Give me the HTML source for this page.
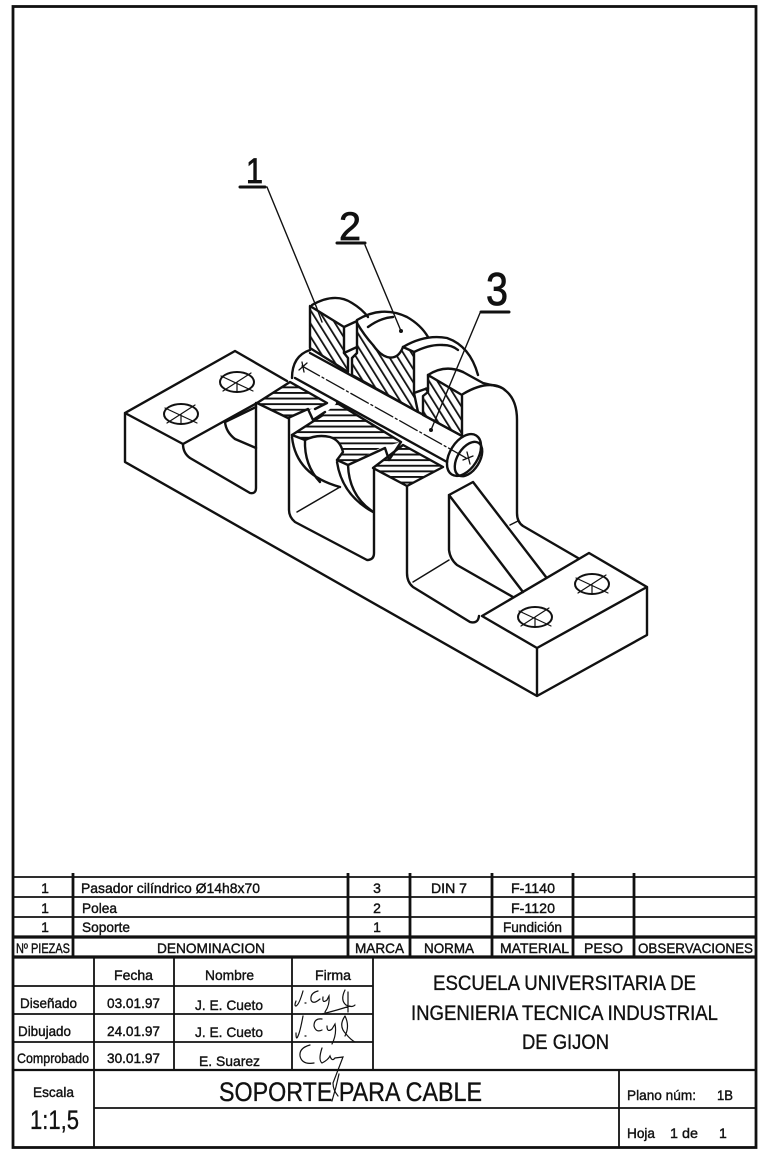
<!DOCTYPE html>
<html><head><meta charset="utf-8"><style>
html,body{margin:0;padding:0;background:#fff}
svg{display:block}
text{font-family:"Liberation Sans",sans-serif;fill:#111}
.t{font-size:14px;stroke:#111;stroke-width:.4}
.b{stroke:#111;stroke-width:.35}
.c{text-anchor:middle}
</style></head><body>
<svg width="774" height="1159" viewBox="0 0 774 1159" xmlns="http://www.w3.org/2000/svg">
<defs>
<pattern id="hh" width="10" height="5.6" patternUnits="userSpaceOnUse"><rect width="10" height="1.900" fill="#111"/></pattern>
<pattern id="dh" width="7" height="10" patternUnits="userSpaceOnUse" patternTransform="rotate(-32)"><rect width="1.800" height="10" fill="#111"/></pattern>
</defs>
<rect width="774" height="1159" fill="#fff"/>

<!-- sheet frame -->
<rect x="13" y="6.500" width="743" height="1141" fill="none" stroke="#111" stroke-width="2.800"/>

<!-- hatched sections -->
<g stroke="none">
<path fill="url(#hh)" d="M257 403L290 382L327 403L288 418Z"/>
<path fill="url(#hh)" d="M292 435L323 415L337 403L401 442L380 448L348 465L337 460L343 452Q340 440 330 437Q317 434 305 440Z"/>
<path fill="url(#hh)" d="M373 468L403 445L443 467L407 486Z"/>
<path fill="url(#dh)" d="M310 306L343 327V353L348 358V372L310 348Z"/>
<path fill="url(#dh)" d="M357 323Q364 335 373 345Q380 355 387 357Q398 360 403 347L414 352V393L418 412L352 375V358L357 353Z"/>
<path fill="url(#dh)" d="M428 375L462 395V436L423 415L425 390Z"/>
</g>

<g fill="none" stroke="#111" stroke-width="2.400" stroke-linejoin="round" stroke-linecap="round">
<!-- base outline -->
<path d="M125 413L235 351L287 381M125 413L183 444L257 403M125 413V462L537 696L647 635V587L589 553L482 616L537 648V696M537 648L647 587"/>
<!-- left recess -->
<path d="M183 444Q183 453 190 458L250 493Q256 494 256 488V403"/>
<path d="M225 422Q226 432 235 439L256 448M225 422L256 407"/>
<!-- section outlines -->
<path d="M257 403L290 382L327 403L315 409M257 403L288 418L308 409L313 420L325 412"/>
<path d="M289 418V510Q289 517 295 522L367 560Q374 560 374 553V468"/>
<path d="M292 435L323 415"/>
<path d="M337 403L401 442L389 460L385 448L348 465L337 460"/>
<path d="M373 468L403 445L443 467L407 486Z"/>
<path d="M407 486V573Q407 582 413 587L470 622Q478 624 479 616"/>
<!-- pulley below -->
<path d="M292 437Q296 475 340 487"/>
<path d="M305 440Q304 465 320 482"/>
<path d="M292 435L305 440Q317 434 330 437Q340 440 343 452L337 460"/>
<path d="M337 462Q342 495 373 512"/>
<path d="M348 465Q349 495 372 511"/>
<path stroke-width="1.500" d="M297 512L340 487"/>
<!-- right standing part -->
<path d="M463 394Q478 385 490 385Q500 385 506 391Q517 400 517 420V513Q517 522 523 526L578 558"/>
<path d="M463 372L483 383L500 387"/>
<path stroke-width="1.500" d="M510 525L518 521"/>
<!-- rib -->
<path d="M449 495L473 482L546 577M449 495V550Q450 559 457 565L513 597M449 495L523 592"/>
<path stroke-width="1.500" d="M413 582L449 560"/>
<!-- upper pulley -->
<path d="M310 306V348L348 372V358L344 353V327L310 306Z"/>
<path d="M312 305Q335 292 352 303Q362 309 368 317"/>
<path d="M344 327L357 321"/>
<path d="M344 353L357 347"/>
<path d="M357 322V353L352 358V375L418 412L414 393V352L403 347"/>
<path d="M357 323Q364 335 373 345Q380 355 387 357Q398 360 403 347"/>
<path d="M357 320Q382 305 407 317Q421 325 428 337"/>
<path d="M368 327Q380 318 393 317"/>
<path d="M403 347Q425 334 447 338Q470 346 478 375"/>
<path d="M414 352Q430 344 443 345Q452 345 458 350"/>
<path d="M414 393L428 388"/>
<path d="M428 375V392L423 396V415L462 436V395L428 375"/>
<path d="M428 375Q445 364 463 372"/>
<!-- pin -->
<path d="M310 350Q292 356 292 378"/>
<path d="M310 353L462 436M295 378L447 462"/>
<ellipse cx="464" cy="455" rx="14" ry="23" transform="rotate(32 464 455)"/>
<ellipse cx="468.500" cy="459" rx="11" ry="19" transform="rotate(32 468.500 459)"/>
<path stroke-width="1.300" stroke-dasharray="20 3 2 3" d="M302 366L468 459"/>
<path stroke-width="1.300" d="M299 370L307 363M302 362L304 372M463 460L473 456M467 452L470 464"/>
<!-- holes -->
<g stroke-width="2">
<ellipse cx="181" cy="414" rx="17" ry="10"/><ellipse cx="237" cy="382" rx="17" ry="10"/>
<ellipse cx="535" cy="617" rx="17" ry="10"/><ellipse cx="592" cy="584" rx="17" ry="10"/>
</g>
<g stroke-width="1.200">
<path d="M165 408L197 423M167 423L195 405M181 414V424M221 376L253 391M223 391L251 373M237 382V392"/>
<path d="M519 611L551 626M521 626L549 608M535 617V627M576 578L608 593M578 593L606 575M592 584V594"/>
</g>
<!-- leaders -->
<g stroke-width="1.400">
<path d="M267 187L316 306L322 322"/>
<path d="M365 245L401 331"/>
<path d="M480 313L431 430"/>
</g>
<path stroke-width="3" d="M240 187H265M337 243H365M481 312H509"/>
</g>
<circle cx="401" cy="331" r="2" fill="#111"/>
<circle cx="431" cy="430" r="2" fill="#111"/>

<!-- numerals -->
<g stroke="#111" stroke-width=".8">
<text x="246" y="183" font-size="35" transform="translate(0 0)" textLength="17" lengthAdjust="spacingAndGlyphs">1</text>
<text x="339" y="240" font-size="40" textLength="22" lengthAdjust="spacingAndGlyphs">2</text>
<text x="486" y="305" font-size="46" textLength="22" lengthAdjust="spacingAndGlyphs">3</text>
</g>

<!-- table lines -->
<g stroke="#111" fill="none">
<path stroke-width="1.800" d="M13 877H756M13 897H756M13 917H756M94 1108H756"/>
<path stroke-width="3.200" d="M13 937H756M13 957H756"/>
<path stroke-width="2.800" d="M73 873V957M348 873V957M410 873V957M492 873V957M634 873V957M573 873V957"/>
<path stroke-width="1.800" d="M13 986H373M13 1014H373M13 1042H373M94 957V1148M174 957V1070M292 957V1070M373 957V1070M619 1070V1148"/>
<path stroke-width="2.200" d="M13 1070H756"/>
<!-- signatures -->
<g stroke-width="1.200" stroke-linecap="round">
<path d="M303 991Q299 1005 296 1006Q294 1006 296 1001M305 1003h1M318 991Q310 993 311 1000Q313 1005 320 999M323 997Q322 1004 327 1000L329 996Q330 1005 325 1012M322 1014Q338 1010 350 1006M345 990Q340 1000 346 1005Q352 1008 355 1005M348 992V1012"/>
<path d="M303 1016Q300 1032 298 1036Q296 1041 296 1033M305 1036h1M322 1019Q314 1018 314 1026Q316 1033 322 1030M327 1026Q327 1033 332 1029L335 1024Q337 1034 332 1044M345 1016Q338 1026 346 1034Q351 1040 355 1042M345 1016Q350 1026 345 1036"/>
<path d="M310 1045Q299 1048 300 1056Q302 1065 314 1063M322 1048Q318 1060 322 1063Q328 1060 330 1056Q332 1062 335 1058L343 1057L333 1083Q333 1090 338 1096"/>
<path d="M339 1074Q336 1088 332 1101"/>
</g>
</g>

<!-- parts list -->
<g>
<text class="t c" x="45" y="893">1</text><text class="t c" x="45" y="913">1</text><text class="t c" x="45" y="932">1</text>
<text class="t" x="81" y="893" textLength="179" lengthAdjust="spacingAndGlyphs">Pasador cilíndrico Ø14h8x70</text>
<text class="t" x="82" y="913" textLength="35" lengthAdjust="spacingAndGlyphs">Polea</text>
<text class="t" x="82" y="932" textLength="48" lengthAdjust="spacingAndGlyphs">Soporte</text>
<text class="t c" x="377" y="893">3</text><text class="t c" x="377" y="913">2</text><text class="t c" x="377" y="932">1</text>
<text class="t" x="431" y="893" textLength="36" lengthAdjust="spacingAndGlyphs">DIN 7</text>
<text class="t" x="511" y="893" textLength="44" lengthAdjust="spacingAndGlyphs">F-1140</text>
<text class="t" x="511" y="913" textLength="44" lengthAdjust="spacingAndGlyphs">F-1120</text>
<text class="t" x="503" y="932" textLength="59" lengthAdjust="spacingAndGlyphs">Fundición</text>
<text class="t" x="16" y="953" textLength="54" lengthAdjust="spacingAndGlyphs">Nº PIEZAS</text>
<text class="t" x="157" y="953" textLength="108" lengthAdjust="spacingAndGlyphs">DENOMINACION</text>
<text class="t" x="355" y="953" textLength="49" lengthAdjust="spacingAndGlyphs">MARCA</text>
<text class="t" x="424" y="953" textLength="50" lengthAdjust="spacingAndGlyphs">NORMA</text>
<text class="t" x="500" y="953" textLength="69" lengthAdjust="spacingAndGlyphs">MATERIAL</text>
<text class="t" x="584" y="953" textLength="39" lengthAdjust="spacingAndGlyphs">PESO</text>
<text class="t" x="638" y="953" textLength="115" lengthAdjust="spacingAndGlyphs">OBSERVACIONES</text>

<text class="t" x="114" y="980" textLength="39" lengthAdjust="spacingAndGlyphs">Fecha</text>
<text class="t" x="205" y="980" textLength="49" lengthAdjust="spacingAndGlyphs">Nombre</text>
<text class="t" x="315" y="980" textLength="36" lengthAdjust="spacingAndGlyphs">Firma</text>
<text class="t" x="20" y="1008" textLength="57" lengthAdjust="spacingAndGlyphs">Diseñado</text>
<text class="t" x="18" y="1036" textLength="53" lengthAdjust="spacingAndGlyphs">Dibujado</text>
<text class="t" x="17" y="1063" textLength="72" lengthAdjust="spacingAndGlyphs">Comprobado</text>
<text class="t" x="107" y="1008" textLength="53" lengthAdjust="spacingAndGlyphs">03.01.97</text>
<text class="t" x="107" y="1036" textLength="53" lengthAdjust="spacingAndGlyphs">24.01.97</text>
<text class="t" x="107" y="1063" textLength="53" lengthAdjust="spacingAndGlyphs">30.01.97</text>
<text class="t" x="195" y="1010" textLength="68" lengthAdjust="spacingAndGlyphs">J. E. Cueto</text>
<text class="t" x="195" y="1037" textLength="68" lengthAdjust="spacingAndGlyphs">J. E. Cueto</text>
<text class="t" x="199" y="1066" textLength="61" lengthAdjust="spacingAndGlyphs">E. Suarez</text>
<text class="t" x="33" y="1097" textLength="41" lengthAdjust="spacingAndGlyphs">Escala</text>
</g>
<text class="b" x="30" y="1129" font-size="27" textLength="49" lengthAdjust="spacingAndGlyphs">1:1,5</text>
<text class="b" x="219" y="1101" font-size="27" textLength="263" lengthAdjust="spacingAndGlyphs">SOPORTE PARA CABLE</text>
<text class="b" x="433" y="990" font-size="21" textLength="263" lengthAdjust="spacingAndGlyphs">ESCUELA UNIVERSITARIA DE</text>
<text class="b" x="411" y="1020" font-size="21" textLength="307" lengthAdjust="spacingAndGlyphs">INGENIERIA TECNICA INDUSTRIAL</text>
<text class="b" x="522" y="1049" font-size="21" textLength="87" lengthAdjust="spacingAndGlyphs">DE GIJON</text>
<g>
<text class="t" x="627" y="1100" textLength="69" lengthAdjust="spacingAndGlyphs">Plano núm:</text>
<text class="t" x="717" y="1100" textLength="16" lengthAdjust="spacingAndGlyphs">1B</text>
<text class="t" x="627" y="1138" textLength="28" lengthAdjust="spacingAndGlyphs">Hoja</text>
<text class="t" x="670" y="1138" textLength="28" lengthAdjust="spacingAndGlyphs">1 de</text>
<text class="t" x="719" y="1138">1</text>
</g>
</svg>
</body></html>
